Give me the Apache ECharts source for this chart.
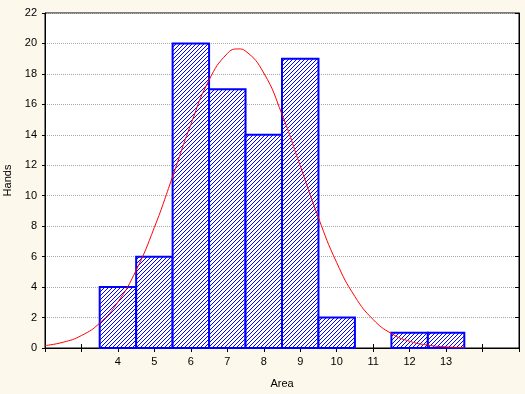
<!DOCTYPE html>
<html>
<head>
<meta charset="utf-8">
<script src="https://cdn.jsdelivr.net/npm/echarts@6/dist/echarts.min.js"></script>
<style>
html,body{margin:0;padding:0;background:#fdf8ec;}
#c{width:525px;height:394px;}
</style>
</head>
<body>
<div id="c"></div>
<script>
// Histogram bins (centres) and counts
var binCenters = [4, 5, 6, 7, 8, 9, 10, 11, 12, 13];
var binCounts  = [4, 6, 20, 17, 14, 19, 2, 0, 1, 1];
// Fitted normal curve
var curveX = [2, 2.5, 3, 3.5, 4, 4.5, 5, 5.5, 6, 6.5, 7, 7.3, 7.5, 8, 8.5, 9, 9.5, 10, 10.5, 11, 11.5, 12, 12.5, 13, 13.5];
var curveY = [0.16, 0.38, 0.82, 1.64, 3.02, 5.11, 7.92, 11.26, 14.69, 17.6, 19.34, 19.64, 19.5, 18.06, 15.34, 11.96, 8.55, 5.61, 3.38, 1.87, 0.95, 0.44, 0.19, 0.07, 0.03];
// Tick labels
var xTickLabels = ['4','5','6','7','8','9','10','11','12','13'];

var font = 'Liberation Sans, Arial, sans-serif';

// pixel hatch pattern (///), period 4px
var pc = document.createElement('canvas');
pc.width = 4; pc.height = 4;
var pctx = pc.getContext('2d');
pctx.fillStyle = '#ffffff';
pctx.fillRect(0, 0, 4, 4);
pctx.fillStyle = '#0000ff';
for (var i = 0; i < 4; i++) { pctx.fillRect(i, 3 - i, 1, 1); }

var histData = binCenters.map(function(c, i){ return [c, binCounts[i]]; });
var curveData = curveX.map(function(x, i){ return [x, curveY[i]]; });

var chart = echarts.init(document.getElementById('c'), null, {renderer: 'canvas'});
var axisLine = {show: true, lineStyle: {color: '#000', width: 1}};
chart.setOption({
  backgroundColor: '#fdf8ec',
  animation: false,
  grid: {left: 45, top: 13, right: 6, bottom: 46, show: true, backgroundColor: '#ffffff', borderColor: '#000', borderWidth: 1, containLabel: false, outerBoundsMode: 'none'},
  xAxis: [{
    type: 'value', min: 2, max: 15, interval: 1, position: 'bottom',
    name: 'Area', nameLocation: 'middle', nameGap: 30,
    nameTextStyle: {fontFamily: font, fontSize: 11, color: '#000'},
    axisLine: axisLine,
    axisTick: {show: true, inside: true, length: 4, lineStyle: {color: '#000'}},
    axisLabel: {margin: 8, fontFamily: font, fontSize: 11, color: '#000',
      formatter: function(v){ return xTickLabels.indexOf(String(v)) >= 0 ? String(v) : ''; }},
    splitLine: {show: false}
  }, {
    type: 'value', min: 2, max: 15, interval: 1, position: 'top',
    axisLine: axisLine,
    axisTick: {show: true, inside: true, length: 4, lineStyle: {color: '#000'}},
    axisLabel: {show: false}, splitLine: {show: false}
  }],
  yAxis: [{
    type: 'value', min: 0, max: 22, interval: 2, position: 'left',
    name: 'Hands', nameLocation: 'middle', nameGap: 29,
    nameTextStyle: {fontFamily: font, fontSize: 11, color: '#000'},
    axisLine: axisLine,
    axisTick: {show: true, inside: false, length: 3, lineStyle: {color: '#000'}},
    axisLabel: {margin: 8, fontFamily: font, fontSize: 11, color: '#000'},
    splitLine: {show: true, lineStyle: {color: '#a8a8a8', type: [1, 1], width: 1}}
  }, {
    type: 'value', min: 0, max: 22, interval: 2, position: 'right',
    axisLine: axisLine,
    axisTick: {show: true, inside: true, length: 4, lineStyle: {color: '#000'}},
    axisLabel: {show: false}, splitLine: {show: false}
  }],
  series: [{
    type: 'custom',
    xAxisIndex: 0, yAxisIndex: 0,
    data: histData,
    z: 2,
    renderItem: function(params, api){
      var x = api.value(0), y = api.value(1);
      if (y <= 0) return null;
      var p0 = api.coord([x - 0.5, y]);
      var p1 = api.coord([x + 0.5, 0]);
      return {
        type: 'rect',
        shape: {x: p0[0], y: p0[1], width: p1[0] - p0[0], height: p1[1] - p0[1]},
        style: {fill: {image: pc, repeat: 'repeat'}, stroke: '#0000ff', lineWidth: 2}
      };
    }
  }, {
    type: 'line',
    xAxisIndex: 0, yAxisIndex: 0,
    data: curveData,
    smooth: true,
    showSymbol: false,
    z: 3,
    lineStyle: {color: '#ff0000', width: 1}
  }]
});
</script>
</body>
</html>
